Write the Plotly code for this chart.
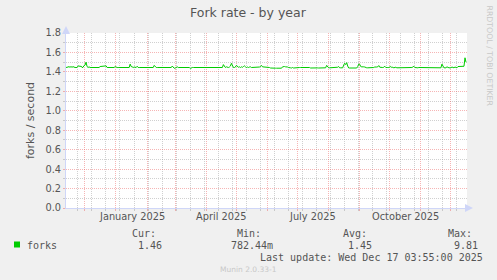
import pandas as pd
import plotly.graph_objects as go

# ---------------- data ----------------
start_date = "2024-11-12 04:00"
end_date = "2025-12-17 04:00"

fork_values = [
    1.445, 1.445, 1.450, 1.454, 1.447, 1.455, 1.447, 1.454, 1.445, 1.445, 1.445, 1.445, 1.460, 1.462, 1.455, 1.460, 1.445, 1.447, 1.465, 1.470,
    1.500, 1.455, 1.445, 1.452, 1.445, 1.445, 1.445, 1.445, 1.445, 1.445, 1.445, 1.445, 1.445, 1.445, 1.455, 1.455, 1.455, 1.455, 1.455, 1.455,
    1.462, 1.445, 1.445, 1.445, 1.445, 1.445, 1.445, 1.445, 1.445, 1.455, 1.445, 1.445, 1.445, 1.445, 1.445, 1.445, 1.445, 1.445, 1.445, 1.445,
    1.445, 1.445, 1.445, 1.445, 1.480, 1.455, 1.452, 1.445, 1.450, 1.445, 1.445, 1.458, 1.445, 1.445, 1.445, 1.445, 1.445, 1.445, 1.445, 1.445,
    1.445, 1.445, 1.445, 1.452, 1.445, 1.445, 1.445, 1.445, 1.467, 1.452, 1.445, 1.445, 1.445, 1.445, 1.445, 1.445, 1.445, 1.445, 1.445, 1.445,
    1.445, 1.445, 1.445, 1.445, 1.445, 1.445, 1.460, 1.450, 1.437, 1.440, 1.445, 1.452, 1.445, 1.445, 1.445, 1.445, 1.445, 1.445, 1.445, 1.445,
    1.445, 1.445, 1.445, 1.445, 1.435, 1.445, 1.445, 1.445, 1.445, 1.445, 1.445, 1.445, 1.445, 1.445, 1.445, 1.445, 1.445, 1.445, 1.445, 1.445,
    1.445, 1.445, 1.445, 1.445, 1.445, 1.445, 1.445, 1.445, 1.445, 1.445, 1.445, 1.445, 1.445, 1.445, 1.445, 1.445, 1.445, 1.475, 1.452, 1.445,
    1.452, 1.445, 1.445, 1.450, 1.460, 1.488, 1.455, 1.445, 1.445, 1.450, 1.467, 1.452, 1.448, 1.452, 1.445, 1.452, 1.447, 1.455, 1.462, 1.452,
    1.445, 1.450, 1.445, 1.450, 1.452, 1.445, 1.445, 1.450, 1.452, 1.445, 1.452, 1.450, 1.445, 1.450, 1.455, 1.467, 1.452, 1.452, 1.445, 1.450,
    1.452, 1.445, 1.450, 1.445, 1.440, 1.438, 1.438, 1.438, 1.438, 1.438, 1.438, 1.438, 1.438, 1.438, 1.438, 1.438, 1.452, 1.455, 1.455, 1.452,
    1.455, 1.450, 1.445, 1.440, 1.442, 1.440, 1.445, 1.440, 1.442, 1.445, 1.445, 1.445, 1.445, 1.445, 1.445, 1.445, 1.445, 1.445, 1.445, 1.450,
    1.445, 1.448, 1.452, 1.445, 1.440, 1.441, 1.440, 1.440, 1.442, 1.440, 1.440, 1.441, 1.440, 1.440, 1.442, 1.440, 1.440, 1.441, 1.440, 1.442,
    1.467, 1.450, 1.442, 1.442, 1.442, 1.442, 1.442, 1.442, 1.442, 1.442, 1.442, 1.448, 1.455, 1.442, 1.442, 1.442, 1.442, 1.470, 1.488, 1.475,
    1.495, 1.460, 1.440, 1.440, 1.440, 1.440, 1.440, 1.440, 1.440, 1.440, 1.440, 1.455, 1.480, 1.478, 1.455, 1.452, 1.455, 1.452, 1.450, 1.442,
    1.442, 1.442, 1.442, 1.442, 1.442, 1.442, 1.442, 1.445, 1.450, 1.448, 1.450, 1.452, 1.465, 1.448, 1.445, 1.442, 1.445, 1.448, 1.458, 1.445,
    1.442, 1.445, 1.445, 1.448, 1.455, 1.445, 1.448, 1.442, 1.445, 1.448, 1.442, 1.442, 1.442, 1.442, 1.442, 1.445, 1.445, 1.445, 1.445, 1.445,
    1.445, 1.445, 1.445, 1.445, 1.448, 1.445, 1.450, 1.458, 1.445, 1.442, 1.445, 1.442, 1.445, 1.445, 1.442, 1.448, 1.442, 1.448, 1.442, 1.448,
    1.442, 1.448, 1.442, 1.448, 1.442, 1.448, 1.442, 1.448, 1.442, 1.448, 1.442, 1.448, 1.442, 1.448, 1.442, 1.480, 1.455, 1.442, 1.442, 1.442,
    1.452, 1.442, 1.442, 1.442, 1.442, 1.450, 1.442, 1.442, 1.450, 1.442, 1.442, 1.455, 1.455, 1.455, 1.455, 1.455, 1.455, 1.458, 1.545, 1.500,
]

month_label_dates = ["2025-01-16 12:00", "2025-04-16", "2025-07-16 12:00", "2025-10-16 12:00"]
month_label_texts = ["January 2025", "April 2025", "July 2025", "October 2025"]

series_name = "forks"
stat_headers = ["Cur:", "Min:", "Avg:", "Max:"]
stat_values = ["1.46", "782.44m", "1.45", "9.81"]
last_update = "Last update: Wed Dec 17 03:55:00 2025"

dates = pd.date_range(start_date, periods=len(fork_values), freq="D")

# ---------------- layout helpers (pixel -> paper) ----------------
W, H = 497, 280
ML, MR, MT, MB = 66, 30, 33, 72
PW, PH = W - ML - MR, H - MT - MB


def px(x):
    return (x - ML) / PW


def py(y):
    return (H - MB - y) / PH


FONT = "#555555"
AXIS = "#CFD6F8"
MGRID = "rgba(235,90,90,0.45)"
GRID = "rgba(150,150,150,0.45)"

fig = go.Figure()
fig.add_trace(go.Scatter(x=dates, y=fork_values, mode="lines",
                         line=dict(color="#00CC00", width=1),
                         name=series_name, hoverinfo="x+y"))

fig.update_layout(
    width=W, height=H,
    margin=dict(l=ML, r=MR, t=MT, b=MB, pad=0),
    paper_bgcolor="#F0F0F0", plot_bgcolor="#FFFFFF",
    showlegend=False,
    font=dict(family="DejaVu Sans", size=10, color=FONT),
)

fig.update_xaxes(
    type="date", range=[start_date, end_date],
    showgrid=True, gridcolor=MGRID, griddash="1px,1px", gridwidth=1,
    dtick="M1", tick0="2024-12-01",
    showticklabels=False, ticks="outside", ticklen=2, tickcolor=MGRID,
    showline=True, linecolor=AXIS, linewidth=1, zeroline=False,
    minor=dict(dtick=14 * 86400000, tick0="2024-11-24", showgrid=True,
               gridcolor=GRID, griddash="1px,1px", gridwidth=1,
               ticks="outside", ticklen=2, tickcolor=GRID),
)

fig.update_yaxes(
    range=[0, 1.8], dtick=0.2, tick0=0, tickformat=".1f",
    showgrid=True, gridcolor=MGRID, griddash="1px,1px", gridwidth=1,
    ticks="outside", ticklen=2, tickcolor=MGRID,
    tickfont=dict(family="DejaVu Sans", size=9.8, color=FONT),
    showline=True, linecolor=AXIS, linewidth=1, zeroline=False,
    minor=dict(dtick=0.1, showgrid=True, gridcolor=GRID, griddash="1px,1px",
               gridwidth=1, ticks="outside", ticklen=2, tickcolor=GRID),
    title=dict(text="forks / second", font=dict(family="DejaVu Sans", size=11, color=FONT),
               standoff=8),
)

ann = []
# title
ann.append(dict(text="Fork rate - by year", x=px(248.5), y=py(13), xref="paper", yref="paper",
                xanchor="center", yanchor="middle", showarrow=False,
                font=dict(family="DejaVu Sans", size=12.5, color=FONT)))
# month labels
for d, t in zip(month_label_dates, month_label_texts):
    ann.append(dict(text=t, x=d, y=py(216), xref="x", yref="paper", xanchor="center",
                    yanchor="middle", showarrow=False,
                    font=dict(family="DejaVu Sans", size=9.8, color=FONT)))
# watermark
ann.append(dict(text="RRDTOOL / TOBI OETIKER", x=px(489), y=py(56.5), xref="paper", yref="paper",
                xanchor="center", yanchor="middle", showarrow=False, textangle=90,
                font=dict(family="DejaVu Sans", size=7.8, color="#C8C8C8")))
ann.append(dict(text="Munin 2.0.33-1", x=px(248.5), y=py(269), xref="paper", yref="paper",
                xanchor="center", yanchor="middle", showarrow=False,
                font=dict(family="DejaVu Sans", size=7.5, color="#C8C8C8")))
# legend text
mono = dict(family="DejaVu Sans Mono", size=10, color=FONT)
ann.append(dict(text=series_name, x=px(26.7), y=py(245), xref="paper", yref="paper",
                xanchor="left", yanchor="middle", showarrow=False, font=mono,
                borderpad=0, borderwidth=0))
for t, xl in zip(stat_headers, [131.7, 237.3, 343.3, 447.7]):
    ann.append(dict(text=t, x=px(xl), y=py(233.3), xref="paper", yref="paper",
                    xanchor="left", yanchor="middle", showarrow=False, font=mono,
                    borderpad=0, borderwidth=0))
for t, xr in zip(stat_values, [161.7, 273.3, 372.3, 477.7]):
    ann.append(dict(text=t, x=px(xr), y=py(245), xref="paper", yref="paper",
                    xanchor="right", yanchor="middle", showarrow=False, font=mono,
                    borderpad=0, borderwidth=0))
ann.append(dict(text=last_update, x=px(483.3), y=py(257.3), xref="paper", yref="paper",
                xanchor="right", yanchor="middle", showarrow=False, font=mono,
                borderpad=0, borderwidth=0))
# axis arrows
ann.append(dict(text="", x=px(66), y=py(26), xref="paper", yref="paper", showarrow=True,
                ax=0, ay=8, arrowhead=2, arrowsize=1.6, arrowwidth=1, arrowcolor=AXIS))
ann.append(dict(text="", x=px(473), y=py(208), xref="paper", yref="paper", showarrow=True,
                ax=-8, ay=0, arrowhead=2, arrowsize=1.6, arrowwidth=1, arrowcolor=AXIS))
fig.update_layout(annotations=ann)

# legend colour square
fig.add_shape(type="rect", xref="paper", yref="paper",
              x0=px(14), x1=px(20), y0=py(247.5), y1=py(241.5),
              fillcolor="#00CC00", line=dict(width=0))

fig.write_html("out.html")
